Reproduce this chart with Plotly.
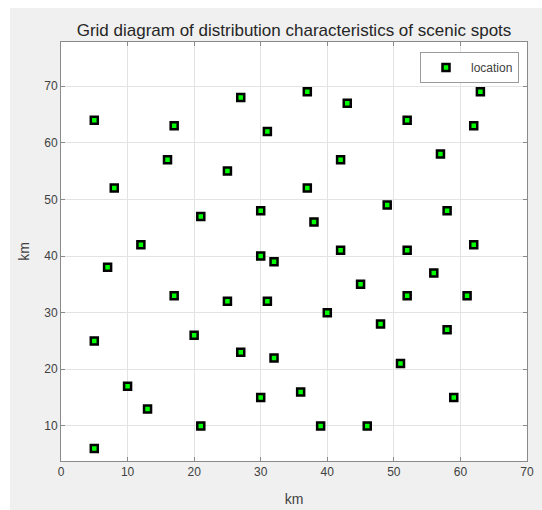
import plotly.graph_objects as go

# Scenic spot locations (km)
x_km = [5, 17, 27, 37, 43, 63, 31, 52, 62, 16, 25, 42, 57, 8, 37, 21, 30, 49, 58, 38,
        12, 7, 30, 32, 42, 52, 62, 56, 17, 25, 31, 45, 52, 61, 40, 48, 58, 5, 20, 27,
        32, 51, 10, 13, 30, 36, 59, 21, 39, 46, 5]
y_km = [64, 63, 68, 69, 67, 69, 62, 64, 63, 57, 55, 57, 58, 52, 52, 47, 48, 49, 48, 46,
        42, 38, 40, 39, 41, 41, 42, 37, 33, 32, 32, 35, 33, 33, 30, 28, 27, 25, 26, 23,
        22, 21, 17, 13, 15, 16, 15, 10, 10, 10, 6]

title_text = "Grid diagram of distribution characteristics of scenic spots"
series_name = "location"
x_label = "km"
y_label = "km"

W, H = 542, 510
ML, MR, MT, MB = 61, 15, 42, 49
PW, PH = W - ML - MR, H - MT - MB

def px_to_paper_x(px):
    return (px - ML) / PW

def py_to_paper_y(py):
    return (H - MB - py) / PH

FONT = "Liberation Sans, Arial, sans-serif"
AX_COL = "#8a8a8a"
TXT_COL = "#404040"

fig = go.Figure()
fig.add_trace(go.Scatter(
    x=x_km, y=y_km, mode="markers", name=series_name,
    marker=dict(symbol="square", size=7, color="#00ff00",
                line=dict(color="#000000", width=2.5)),
    showlegend=True,
))

axis_common = dict(
    showgrid=True, gridcolor="#e3e3e3", gridwidth=1,
    showline=True, linecolor=AX_COL, linewidth=1, mirror="ticks",
    ticks="inside", ticklen=4, tickcolor=AX_COL, tickwidth=1,
    tickfont=dict(family=FONT, size=12, color=TXT_COL),
    zeroline=False, dtick=10, automargin=False,
)

fig.update_layout(
    width=W, height=H,
    margin=dict(l=ML, r=MR, t=MT, b=MB, pad=0),
    paper_bgcolor="#f0f0f0", plot_bgcolor="#ffffff",
    title=dict(text=title_text, x=0.5, xref="paper", xanchor="center",
               y=1 - 30 / H, yref="container", yanchor="middle",
               font=dict(family=FONT, size=17, color="#262626")),
    xaxis=dict(range=[0, 70], tick0=0,
               title=dict(text=x_label, standoff=15,
                          font=dict(family=FONT, size=14, color=TXT_COL)),
               **axis_common),
    yaxis=dict(range=[3.8, 77.8], tick0=0,
               title=dict(text=y_label, standoff=11,
                          font=dict(family=FONT, size=14, color=TXT_COL)),
               **axis_common),
    legend=dict(x=px_to_paper_x(519), y=py_to_paper_y(52), xanchor="right", yanchor="top",
                bgcolor="#ffffff", bordercolor="#9a9a9a", borderwidth=1,
                font=dict(family=FONT, size=12, color=TXT_COL), itemwidth=40),
    showlegend=True,
    shapes=[
        dict(type="rect", xref="paper", yref="paper", layer="below",
             x0=px_to_paper_x(-5), x1=px_to_paper_x(W + 5),
             y0=py_to_paper_y(8), y1=py_to_paper_y(-5),
             fillcolor="#ffffff", line=dict(width=0)),
        dict(type="rect", xref="paper", yref="paper", layer="below",
             x0=px_to_paper_x(-5), x1=px_to_paper_x(10),
             y0=py_to_paper_y(H + 5), y1=py_to_paper_y(-5),
             fillcolor="#ffffff", line=dict(width=0)),
    ],
)

fig.write_html("out.html")
